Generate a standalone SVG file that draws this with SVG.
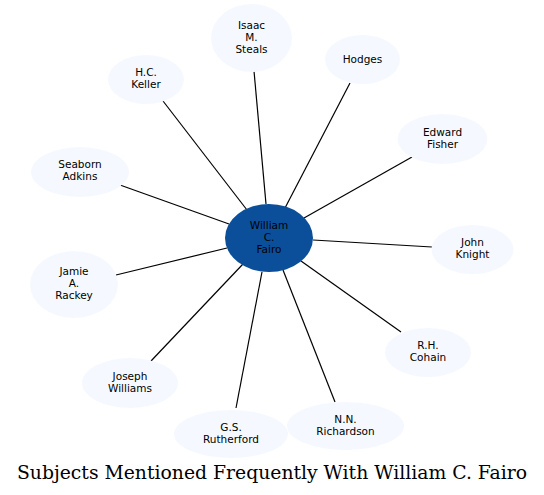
<svg xmlns="http://www.w3.org/2000/svg" width="544" height="495" viewBox="0 0 544 495">
<style>
.n ellipse{fill:#f5f9ff;}
.c ellipse{fill:#0b4f9a;}
text{font-family:"DejaVu Sans",sans-serif;font-size:10.5px;fill:#000;text-anchor:middle;}
.t{font-family:"DejaVu Serif",serif;font-size:18.8px;}
#edges line{stroke:#000;stroke-width:1.2;}
</style>
<rect width="544" height="495" fill="#fff"/>
<g id="edges">
<line x1="254" y1="71" x2="266" y2="204"/>
<line x1="350" y1="83" x2="285" y2="208"/>
<line x1="163" y1="101" x2="247" y2="210"/>
<line x1="120" y1="185" x2="229" y2="224"/>
<line x1="412" y1="157" x2="304" y2="218"/>
<line x1="432" y1="247" x2="313" y2="240"/>
<line x1="116" y1="275" x2="227" y2="248"/>
<line x1="401" y1="332" x2="301" y2="261"/>
<line x1="151" y1="361" x2="243" y2="264"/>
<line x1="236" y1="408" x2="262" y2="272"/>
<line x1="335" y1="402" x2="283" y2="270"/>
</g>
<g id="fairo" class="c"><ellipse cx="269" cy="238" rx="44" ry="34"/><text x="269" y="229">William</text><text x="269" y="241">C.</text><text x="269" y="253">Fairo</text></g>
<g id="steals" class="n"><ellipse cx="251.5" cy="38" rx="40.5" ry="34"/><text x="251.5" y="29">Isaac</text><text x="251.5" y="41">M.</text><text x="251.5" y="53">Steals</text></g>
<g id="hodges" class="n"><ellipse cx="362.5" cy="59.5" rx="37.5" ry="24.5"/><text x="362.5" y="63">Hodges</text></g>
<g id="keller" class="n"><ellipse cx="146" cy="79.5" rx="38" ry="24.5"/><text x="146" y="76">H.C.</text><text x="146" y="88">Keller</text></g>
<g id="adkins" class="n"><ellipse cx="80" cy="172" rx="49" ry="25"/><text x="80" y="168">Seaborn</text><text x="80" y="180">Adkins</text></g>
<g id="fisher" class="n"><ellipse cx="442.5" cy="139" rx="45" ry="25"/><text x="442.5" y="136">Edward</text><text x="442.5" y="148">Fisher</text></g>
<g id="knight" class="n"><ellipse cx="472.5" cy="249.5" rx="41" ry="24.5"/><text x="472.5" y="246">John</text><text x="472.5" y="258">Knight</text></g>
<g id="rackey" class="n"><ellipse cx="74" cy="284.5" rx="44" ry="33.5"/><text x="74" y="275">Jamie</text><text x="74" y="287">A.</text><text x="74" y="299">Rackey</text></g>
<g id="cohain" class="n"><ellipse cx="428" cy="352.5" rx="43" ry="24.5"/><text x="428" y="349">R.H.</text><text x="428" y="361">Cohain</text></g>
<g id="williams" class="n"><ellipse cx="130" cy="383" rx="48" ry="25"/><text x="130" y="380">Joseph</text><text x="130" y="392">Williams</text></g>
<g id="rutherford" class="n"><ellipse cx="231" cy="434" rx="57" ry="24"/><text x="231" y="431">G.S.</text><text x="231" y="443">Rutherford</text></g>
<g id="richardson" class="n"><ellipse cx="345.5" cy="426" rx="58.5" ry="24"/><text x="345.5" y="423">N.N.</text><text x="345.5" y="435">Richardson</text></g>
<text class="t" x="272" y="479">Subjects Mentioned Frequently With William C. Fairo</text>
</svg>
